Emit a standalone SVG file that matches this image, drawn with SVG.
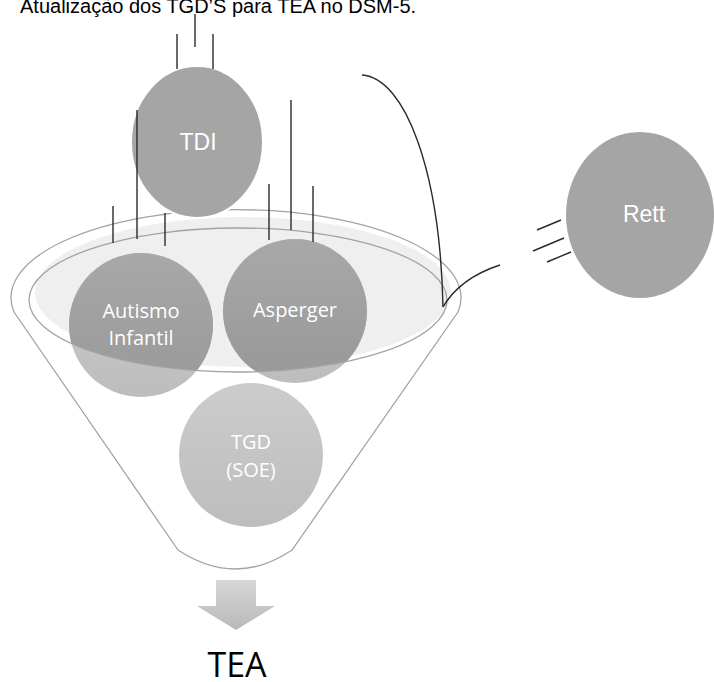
<svg xmlns="http://www.w3.org/2000/svg" width="714" height="682" viewBox="0 0 714 682">
<style>
.lbl{font-family:"Open Sans","Liberation Sans",sans-serif;font-size:20px;fill:#ffffff;text-anchor:middle}
.lbla{font-family:"Liberation Sans",Arial,sans-serif;font-size:23px;fill:#ffffff;text-anchor:middle}
.ln{stroke:#2a2a2a;stroke-width:1.4;fill:none}
.outl{fill:none;stroke:#a3a3a3;stroke-width:1.3}
</style>
<defs>
<clipPath id="rim"><ellipse cx="238" cy="300" rx="209" ry="72"/></clipPath>
<linearGradient id="dark" x1="0" y1="0" x2="0" y2="1">
<stop offset="0" stop-color="#a8a8a8"/><stop offset="1" stop-color="#989898"/>
</linearGradient>
<linearGradient id="light" x1="0" y1="0" x2="0" y2="1">
<stop offset="0" stop-color="#cccccc"/><stop offset="1" stop-color="#bdbdbd"/>
</linearGradient>
<linearGradient id="arr" x1="0" y1="0" x2="0" y2="1">
<stop offset="0" stop-color="#d6d6d6"/><stop offset="1" stop-color="#b9b9b9"/>
</linearGradient>
</defs>
<rect width="714" height="682" fill="#ffffff"/>
<text x="20" y="13" font-family="Liberation Sans, Arial, sans-serif" font-size="20" fill="#000">Atualização dos TGD’S para TEA no DSM-5.</text>

<g id="funnel">
<path class="outl" d="M178,550 L14,312 A225 88 0 1 1 458,312 L292,550 Q236,588 178,550 Z" fill="#ffffff"/>
<ellipse cx="243" cy="292" rx="208" ry="75" fill="#efefef"/>
</g>

<g id="autismo">
<circle cx="141" cy="325" r="72" fill="url(#light)"/>
<circle cx="141" cy="325" r="72" fill="url(#dark)" clip-path="url(#rim)"/>
<text class="lbl" x="141" y="318">Autismo</text>
<text class="lbl" x="141" y="345">Infantil</text>
</g>
<g id="asperger">
<circle cx="295" cy="311" r="72" fill="url(#light)"/>
<circle cx="295" cy="311" r="72" fill="url(#dark)" clip-path="url(#rim)"/>
<text class="lbl" x="295" y="317">Asperger</text>
</g>
<g id="tgd">
<circle cx="251" cy="455" r="72" fill="url(#light)"/>
<text class="lbl" x="251" y="449" fill="#f4f4f4">TGD</text>
<text class="lbl" x="251" y="477" fill="#f4f4f4">(SOE)</text>
</g>
<ellipse class="outl" cx="238" cy="300" rx="209" ry="72"/>

<g id="tdi">
<ellipse cx="197" cy="142" rx="66" ry="76" fill="#a5a5a5" stroke="#ffffff" stroke-width="2"/>
<text class="lbla" x="198" y="150">TDI</text>
</g>
<g id="rett">
<ellipse cx="640" cy="215" rx="74" ry="83" fill="#a5a5a5"/>
<text class="lbla" x="644" y="222" font-size="22">Rett</text>
</g>

<g id="tea">
<path d="M216,580 H256 V606 H275 L236,630 L197,606 H216 Z" fill="url(#arr)"/>
<text x="237" y="677" font-family="Open Sans, Liberation Sans, sans-serif" font-size="34" fill="#000" text-anchor="middle">TEA</text>
</g>

<g id="connectors">
<line class="ln" x1="195" y1="14" x2="195" y2="47"/>
<line class="ln" x1="177" y1="34" x2="177" y2="69"/>
<line class="ln" x1="213" y1="34" x2="213" y2="69"/>
<line class="ln" x1="113" y1="206" x2="113" y2="243"/>
<line class="ln" x1="137" y1="110" x2="137" y2="239"/>
<line class="ln" x1="165" y1="213" x2="165" y2="246"/>
<line class="ln" x1="269" y1="184" x2="269" y2="240"/>
<line class="ln" x1="291" y1="100" x2="291" y2="230"/>
<line class="ln" x1="313" y1="186" x2="313" y2="242"/>
<path class="ln" d="M362,75 C405,78 440,170 443,307"/>
<path class="ln" d="M443,307 Q460,278 500,265"/>
<line class="ln" x1="537" y1="230" x2="561" y2="220"/>
<line class="ln" x1="533" y1="251" x2="564" y2="238"/>
<line class="ln" x1="547" y1="262" x2="571" y2="252"/>
</g>
</svg>
